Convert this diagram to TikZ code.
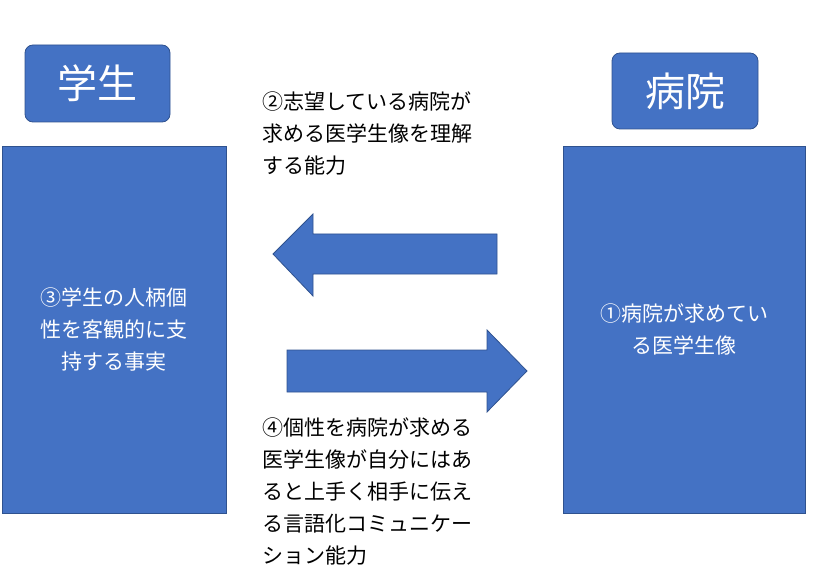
\documentclass[tikz,border=0pt]{standalone}
\usepackage{fontspec}
\setmainfont{Noto Sans CJK JP}
\definecolor{boxblue}{HTML}{4472C4}
\definecolor{edgeblue}{HTML}{2F528F}
\tikzset{
  blue box/.style={draw=edgeblue, fill=boxblue, line width=0.8pt},
  inner text/.style={text=white, font=\fontsize{21}{32}\selectfont, align=center},
  side text/.style={font=\fontsize{21}{32}\selectfont, align=left, anchor=north west, inner sep=0pt}
}
\begin{document}
\begin{tikzpicture}[x=1pt, y=-1pt]
	\useasboundingbox (0,0) rectangle (814,580);
	\node[blue box, rounded corners=8pt, minimum width=145pt, minimum height=77pt, text=white, font=\fontsize{40}{40}\selectfont] (student) at (97.5,83.5) {学生};
	\node[blue box, rounded corners=8pt, minimum width=146pt, minimum height=76pt, text=white, font=\fontsize{40}{40}\selectfont] (hospital) at (685,91) {病院};

	\node[blue box, minimum width=224pt, minimum height=367pt] (left) at (114,329.5) {};
	\node[blue box, minimum width=242pt, minimum height=367pt] (right) at (684,329.5) {};
	\node[inner text] (facts) at (left) {③学生の人柄個\\性を客観的に支\\持する事実};
	\node[inner text] (image) at (right) {①病院が求めてい\\る医学生像};

	\draw[blue box] (497,234) -- (313,234) -- (313,214) -- (273,254) -- (313,296) -- (313,274) -- (497,274) -- cycle;
	\draw[blue box] (287,350) -- (487,350) -- (487,330) -- (527,371) -- (487,412) -- (487,392) -- (287,392) -- cycle;

	\node[side text] (understand) at (262,92) {②志望している病院が\\求める医学生像を理解\\する能力};
	\node[side text] (communicate) at (262,418) {④個性を病院が求める\\医学生像が自分にはあ\\ると上手く相手に伝え\\る言語化コミュニケー\\ション能力};
\end{tikzpicture}
\end{document}
